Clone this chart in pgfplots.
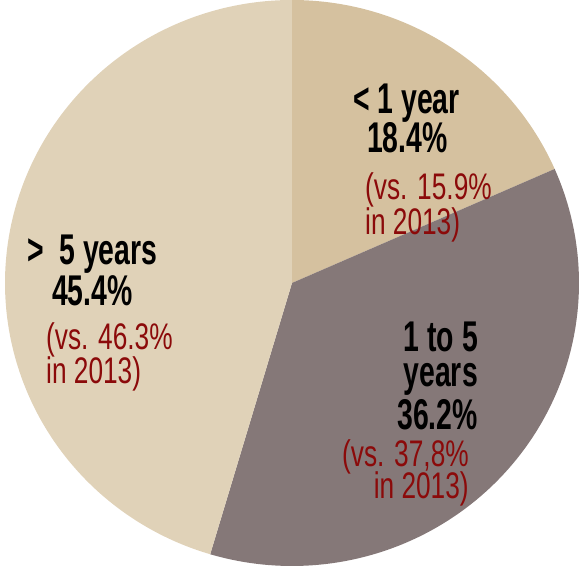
\documentclass[border=0pt]{standalone}
\usepackage{pgfplots}
\pgfplotsset{compat=1.18}
\usepackage{fontspec}
\setmainfont{Liberation Sans}
\newfontfamily\bnarrow[FakeStretch=0.66]{Liberation Sans Bold}
\newfontfamily\rnarrow[FakeStretch=0.71]{Liberation Sans}
\definecolor{cA}{HTML}{D5C19F}
\definecolor{cB}{HTML}{857878}
\definecolor{cC}{HTML}{E0D2B8}
\definecolor{redt}{HTML}{8B0A0A}
% shares (percent)
\def\vA{18.4}
\def\vB{36.2}
\def\vC{45.4}
\begin{document}
\begin{tikzpicture}
\pgfmathsetmacro{\sA}{90}
\pgfmathsetmacro{\eA}{90-\vA*3.6}
\pgfmathsetmacro{\eB}{\eA-\vB*3.6}
\pgfmathsetmacro{\eC}{\eB-\vC*3.6}
\begin{axis}[hide axis, scale only axis, width=579pt, height=566pt,
  xmin=-1.0174, xmax=1.0, ymin=-1, ymax=1, clip=false]
\path[draw=none] (rel axis cs:0,0) rectangle (rel axis cs:1,1);
\addplot[fill=cA, draw=none, domain=\eA:\sA, samples=120, variable=\t] ({cos(t)},{sin(t)}) -- (axis cs:0,0) -- cycle;
\addplot[fill=cB, draw=none, domain=\eB:\eA, samples=160, variable=\t] ({cos(t)},{sin(t)}) -- (axis cs:0,0) -- cycle;
\addplot[fill=cC, draw=none, domain=\eC:\eB, samples=200, variable=\t] ({cos(t)},{sin(t)}) -- (axis cs:0,0) -- cycle;
% labels: x=(px-292)/287, y=(283-py)/283 ; anchors at baseline of last line
\tikzset{bl/.style={inner sep=0pt, font=\bnarrow\fontsize{43}{36}\selectfont, text=black},
         rl/.style={inner sep=0pt, font=\rnarrow\fontsize{37}{33}\selectfont, text=redt}}
% < 1 year
\node[bl, anchor=base west, align=left] at (axis cs:{(353-292)/287},{(283-153)/283}) {< 1 year\\\hspace*{14pt}18.4\%};
\node[rl, anchor=base west, align=left] at (axis cs:{(365-292)/287},{(283-235)/283}) {(vs. 15.9\%\\in 2013)};
% > 5 years
\node[bl, anchor=base west, align=left] at (axis cs:{(27-292)/287},{(283-306)/283}) {>\ \ 5 years\\[2pt]\hspace*{25pt}45.4\%};
\node[rl, anchor=base west, align=left] at (axis cs:{(46-292)/287},{(283-384)/283}) {(vs. 46.3\%\\[-1pt]in 2013)};
% 1 to 5 years
\node[bl, anchor=base east, align=right] at (axis cs:{(478-292)/287},{(283-430)/283}) {1 to 5\\[-1pt]years\\[4pt]36.2\%};
\node[rl, anchor=base west, align=right] at (axis cs:{(342-292)/287},{(283-499)/283}) {(vs. 37,8\%\\[-3pt]in 2013)};
\end{axis}
\end{tikzpicture}
\end{document}
